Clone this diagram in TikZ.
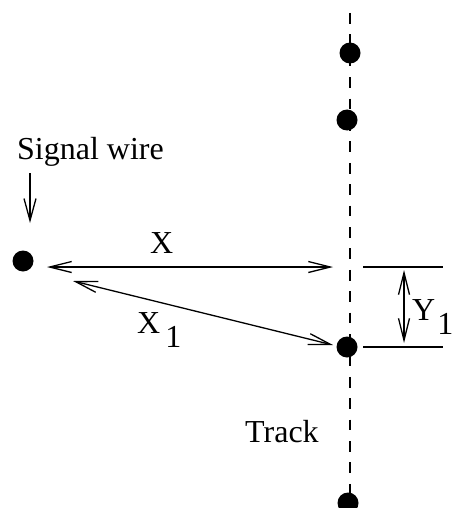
\documentclass[tikz,border=0pt]{standalone}
\usepackage{fontspec}
\setmainfont{Liberation Serif}
\usetikzlibrary{arrows.meta,calc,positioning}
\tikzset{
  hit dot/.style={circle,draw=none,fill=black,minimum size=21pt,
    inner sep=0pt},
  track line/.style={line width=1.3pt,dash pattern=on 10.7pt off 10.7pt},
  dim arrow/.style={{Straight Barb[length=22pt,width=11pt]}-{Straight Barb[length=22pt,width=11pt]},
    line width=1.3pt},
  wire arrow/.style={-{Straight Barb[length=22pt,width=12pt]},line width=1.3pt},
  tick line/.style={line width=1.3pt},
  dim label/.style={anchor=base west,inner sep=0pt,
    font=\fontsize{32}{38}\selectfont}
}

\begin{document}
\begin{tikzpicture}[x=1pt,y=-1pt]
    \useasboundingbox (0,0) rectangle (453,508);
    \coordinate (tracktop) at (350,13);
    \coordinate (trackbottom) at (350,520);
    \draw[track line] (tracktop) -- (trackbottom);
    \node[hit dot] (hitone) at (350,53) {};
    \node[hit dot] (hittwo) at (347,120) {};
    \node[hit dot] (hitthree) at (347,347) {};
    \node[hit dot] (hitfour) at (348,503) {};
    \node[hit dot] (wire) at (23,261) {};
    % labels
    \node[dim label] (wirelabel) at (17,159) {Signal wire};
    \node[dim label] (xlabel) at (150,253) {X};
    \node[dim label] (xonelabel) at (137,333) {X\hspace{5pt}\raisebox{-14pt}{1}};
    \node[dim label] (yonelabel) at (412,320) {Y\hspace{2pt}\raisebox{-14pt}{\makebox[10pt][l]{1}}};
    \node[dim label] (tracklabel) at (245,442) {Track};
    % arrows
    \coordinate (wiretail) at (30,173);
    \coordinate (wirehead) at (30,223);
    \draw[wire arrow] (wiretail) -- (wirehead);
    \coordinate (xleft) at (47,267);
    \coordinate (xright) at (333,267);
    \draw[dim arrow] (xleft) -- (xright);
    \coordinate (xoneleft) at (73,281);
    \coordinate (xoneright) at (333,345);
    \draw[dim arrow] (xoneleft) -- (xoneright);
    \coordinate (ticktopleft) at (363,267);
    \coordinate (ticktopright) at (443,267);
    \coordinate (tickbotleft) at (363,347);
    \coordinate (tickbotright) at (443,347);
    \draw[tick line] (ticktopleft) -- (ticktopright);
    \draw[tick line] (tickbotleft) -- (tickbotright);
    \coordinate (yonetop) at (404,270);
    \coordinate (yonebottom) at (404,343);
    \draw[dim arrow] (yonetop) -- (yonebottom);
  \end{tikzpicture}
\end{document}
